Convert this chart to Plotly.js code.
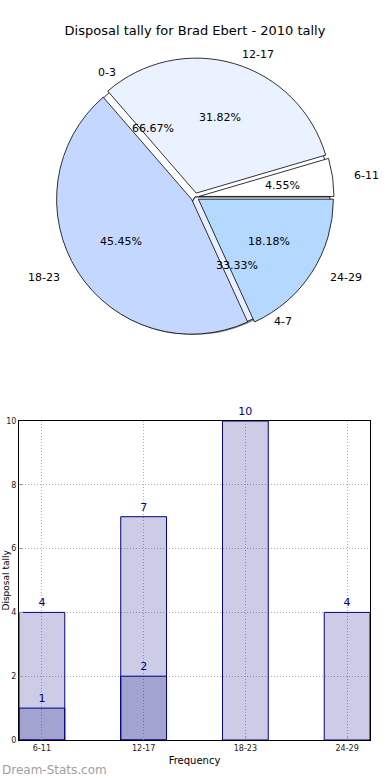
<!DOCTYPE html>
<html>
<head>
<meta charset="utf-8">
<script src="https://cdn.plot.ly/plotly-3.0.1.min.js"></script>
<style>html,body{margin:0;padding:0;background:#fff;}#chart{width:390px;height:780px;}</style>
</head>
<body>
<div id="chart"></div>
<script>
// ---- data ----
const chartTitle = 'Disposal tally for Brad Ebert - 2010 tally';
const pieLabels = ['6-11', '12-17', '18-23', '24-29'];
const pieValues = [1, 7, 10, 4];
const pieColors = ['#ffffff', '#eaf1ff', '#c4d8ff', '#b4d8ff'];
const pie2Labels = ['0-3', '4-7'];
const pie2Values = [2, 1];
const pie2Colors = ['#ffffff', '#e8f0ff'];
const barCats = ['6-11', '12-17', '18-23', '24-29'];
const barTotals = [4, 7, 10, 4];
const barSubCats = ['6-11', '12-17'];
const barSubValues = [1, 2];
const xTitle = 'Frequency';
const yTitle = 'Disposal tally';

// ---- geometry ----
const W = 390, H = 780;
const cx = 195, cy = 197, R = 135, PULL = 0.03;
const rxT = 140, ryT = 131; // text placement radii
function dom(side, dx, dy) {
  return {x: [(cx + dx - side / 2) / W, (cx + dx + side / 2) / W],
          y: [1 - (cy + dy + side / 2) / H, 1 - (cy + dy - side / 2) / H]};
}
function pt(angDeg, f, off) {
  const a = angDeg * Math.PI / 180;
  return {x: (cx + (f + off) * rxT * Math.cos(a)) / W, y: 1 - (cy - (f + off) * ryT * Math.sin(a)) / H,
          right: Math.cos(a) > 0};
}
function firstSliceDeg(values) {
  const tot = values.reduce((a, b) => a + b, 0);
  return values[0] / tot * 360;
}
const annotations = [];
function addPieText(labels, values, off) {
  const tot = values.reduce((a, b) => a + b, 0);
  let start = 0;
  labels.forEach((lab, i) => {
    const span = values[i] / tot * 360;
    const mid = start + span / 2;
    const p = pt(mid, 0.6, off);
    annotations.push({x: p.x, y: p.y, xref: 'paper', yref: 'paper', showarrow: false,
      text: (values[i] / tot * 100).toFixed(2) + '%', xanchor: 'center', yanchor: 'middle',
      font: {family: 'DejaVu Sans', size: 11, color: '#000'}});
    const q = pt(mid, 1.1, off);
    annotations.push({x: q.x, y: q.y, xref: 'paper', yref: 'paper', showarrow: false,
      text: lab, xanchor: q.right ? 'left' : 'right', yanchor: 'middle',
      font: {family: 'DejaVu Sans', size: 11, color: '#000'}});
    start += span;
  });
}
addPieText(pie2Labels, pie2Values, 0);
addPieText(pieLabels, pieValues, PULL);

annotations.push({x: 0, y: 0, xref: 'paper', yref: 'paper', xanchor: 'left', yanchor: 'bottom',
  yshift: 1, showarrow: false, text: 'Dream-Stats.com',
  font: {family: 'DejaVu Sans', size: 12, color: '#a0a0a0'}});

// y-axis title at the far left edge
annotations.push({x: 5 / W, y: 0.5, xref: 'paper', yref: 'y domain', xanchor: 'center', yanchor: 'middle',
  textangle: -90, showarrow: false, text: yTitle,
  font: {family: 'DejaVu Sans', size: 9, color: '#000'}});

const common = {type: 'pie', sort: false, direction: 'counterclockwise',
  textinfo: 'none', hoverinfo: 'label+percent', showlegend: false};

const traces = [
  Object.assign({}, common, {labels: pie2Labels, values: pie2Values, domain: dom(2 * R, -2, 3),
    rotation: 90 - firstSliceDeg(pie2Values),
    marker: {colors: ['#8c8c8c', '#8c8c8c'], line: {width: 0}}}),
  Object.assign({}, common, {labels: pie2Labels, values: pie2Values, domain: dom(2 * R, 0, 0),
    rotation: 90 - firstSliceDeg(pie2Values),
    marker: {colors: pie2Colors, line: {color: '#000', width: 0.8}}}),
  Object.assign({}, common, {labels: pieLabels, values: pieValues, domain: dom(2 * R * (1 + PULL), 0, 0),
    rotation: 90 - firstSliceDeg(pieValues),
    pull: pieValues.map(() => PULL),
    marker: {colors: pieColors, line: {color: '#000', width: 0.8}}}),
  {type: 'bar', x: barCats, y: barTotals, width: 0.45, text: barTotals.map(String),
    textposition: 'outside', cliponaxis: false, textfont: {family: 'DejaVu Sans', size: 11, color: '#000080'},
    marker: {color: 'rgba(0,0,128,0.2)', line: {color: '#000080', width: 1}}, showlegend: false},
  {type: 'bar', x: barSubCats, y: barSubValues, width: 0.45, text: barSubValues.map(String),
    textposition: 'outside', cliponaxis: false, textfont: {family: 'DejaVu Sans', size: 11, color: '#000080'},
    marker: {color: 'rgba(0,0,128,0.2)', line: {color: '#000080', width: 1}}, showlegend: false}
];

const layout = {
  width: W, height: H, margin: {l: 0, r: 0, t: 0, b: 0}, paper_bgcolor: '#fff', plot_bgcolor: '#fff',
  font: {family: 'DejaVu Sans', color: '#000'},
  title: {text: chartTitle, x: 0.5, xanchor: 'center', y: 1 - 30 / H, yanchor: 'middle',
    font: {family: 'DejaVu Sans', size: 13, color: '#000'}},
  barmode: 'overlay',
  xaxis: {domain: [19 / W, 370 / W], anchor: 'y', type: 'category', range: [-0.225, 3.225],
    showgrid: true, griddash: '1px,2px', gridcolor: '#b0b0b0', gridwidth: 1,
    showline: true, linecolor: '#000', linewidth: 1, mirror: true, ticks: 'inside', ticklen: 4,
    tickcolor: '#999', tickfont: {family: 'DejaVu Sans', size: 8, color: '#222'},
    title: {text: xTitle, standoff: 5, font: {family: 'DejaVu Sans', size: 10, color: '#000'}}, automargin: false},
  yaxis: {domain: [40 / H, 359 / H], anchor: 'x', range: [0, 10], dtick: 2, tick0: 0,
    showgrid: true, griddash: '1px,2px', gridcolor: '#b0b0b0', gridwidth: 1, zeroline: false,
    showline: true, linecolor: '#000', linewidth: 1, mirror: true, ticks: 'inside', ticklen: 4,
    tickcolor: '#999', tickfont: {family: 'DejaVu Sans', size: 8, color: '#222'}, automargin: false},
  annotations: annotations
};

Plotly.newPlot('chart', traces, layout, {staticPlot: true, displayModeBar: false});
</script>
</body>
</html>
